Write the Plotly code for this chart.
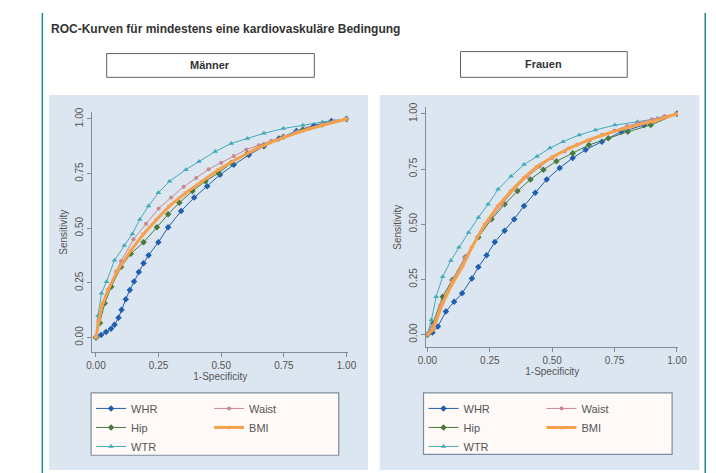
import plotly.graph_objects as go

W, H = 716, 473

# ---------------- data (1-Specificity, Sensitivity) ----------------
series_names = ["WHR", "Hip", "WTR", "Waist", "BMI"]

# Männer
m_whr_x = [0, 0.02, 0.04, 0.06, 0.074, 0.09, 0.102, 0.119, 0.135, 0.152, 0.171, 0.19, 0.21, 0.249, 0.288, 0.34, 0.392, 0.444, 0.495, 0.55, 0.61, 0.67, 0.73, 0.8, 0.87, 0.94, 1.0]
m_whr_y = [0, 0.012, 0.025, 0.04, 0.058, 0.09, 0.127, 0.175, 0.217, 0.256, 0.3, 0.34, 0.376, 0.436, 0.504, 0.579, 0.64, 0.692, 0.745, 0.79, 0.835, 0.875, 0.91, 0.945, 0.97, 0.99, 1.0]
m_hip_x = [0, 0.016, 0.035, 0.061, 0.1, 0.139, 0.19, 0.243, 0.288, 0.333, 0.385, 0.437, 0.489, 0.54, 0.605, 0.67, 0.748, 0.826, 0.904, 1.0]
m_hip_y = [0, 0.066, 0.157, 0.232, 0.323, 0.383, 0.436, 0.504, 0.564, 0.617, 0.67, 0.715, 0.753, 0.798, 0.843, 0.88, 0.918, 0.952, 0.975, 1.0]
m_wtr_x = [0, 0.008, 0.022, 0.042, 0.074, 0.113, 0.145, 0.175, 0.21, 0.249, 0.294, 0.359, 0.411, 0.476, 0.54, 0.605, 0.67, 0.748, 0.826, 0.904, 1.0]
m_wtr_y = [0, 0.1, 0.202, 0.255, 0.353, 0.421, 0.474, 0.54, 0.602, 0.662, 0.715, 0.768, 0.805, 0.851, 0.888, 0.911, 0.934, 0.956, 0.971, 0.986, 1.0]
m_waist_x = [0, 0.01, 0.03, 0.05, 0.08, 0.1, 0.15, 0.2, 0.25, 0.3, 0.35, 0.4, 0.45, 0.5, 0.55, 0.6, 0.65, 0.7, 0.75, 0.8, 0.85, 0.9, 0.95, 1.0]
m_waist_y = [0, 0.08, 0.16, 0.22, 0.3, 0.35, 0.45, 0.52, 0.59, 0.64, 0.69, 0.73, 0.77, 0.8, 0.83, 0.86, 0.88, 0.9, 0.92, 0.94, 0.96, 0.975, 0.99, 1.0]
m_bmi_x = [0, 0.01, 0.022, 0.048, 0.087, 0.139, 0.19, 0.243, 0.294, 0.359, 0.424, 0.489, 0.567, 0.645, 0.722, 0.813, 0.904, 1.0]
m_bmi_y = [0, 0.07, 0.142, 0.217, 0.308, 0.398, 0.474, 0.541, 0.602, 0.662, 0.715, 0.768, 0.82, 0.866, 0.903, 0.941, 0.971, 1.0]

# Frauen
f_whr_x = [0, 0.02, 0.042, 0.074, 0.107, 0.139, 0.178, 0.204, 0.237, 0.27, 0.309, 0.348, 0.387, 0.432, 0.478, 0.53, 0.582, 0.634, 0.699, 0.777, 0.868, 1.0]
f_whr_y = [0, 0.01, 0.037, 0.105, 0.149, 0.187, 0.254, 0.306, 0.359, 0.419, 0.471, 0.523, 0.583, 0.643, 0.703, 0.755, 0.8, 0.837, 0.874, 0.919, 0.949, 1.0]
f_hip_x = [0, 0.022, 0.061, 0.1, 0.152, 0.204, 0.257, 0.309, 0.361, 0.413, 0.465, 0.517, 0.582, 0.647, 0.725, 0.803, 0.895, 1.0]
f_hip_y = [0, 0.052, 0.172, 0.247, 0.351, 0.441, 0.523, 0.59, 0.65, 0.703, 0.747, 0.785, 0.822, 0.859, 0.889, 0.919, 0.949, 1.0]
f_wtr_x = [0, 0.016, 0.035, 0.061, 0.094, 0.126, 0.165, 0.204, 0.243, 0.283, 0.335, 0.387, 0.439, 0.491, 0.543, 0.608, 0.673, 0.751, 0.842, 0.921, 1.0]
f_wtr_y = [0, 0.067, 0.172, 0.262, 0.336, 0.396, 0.463, 0.531, 0.59, 0.658, 0.717, 0.77, 0.807, 0.845, 0.874, 0.904, 0.927, 0.949, 0.964, 0.979, 1.0]
f_waist_x = [0, 0.02, 0.05, 0.1, 0.15, 0.2, 0.25, 0.3, 0.35, 0.4, 0.45, 0.5, 0.55, 0.6, 0.65, 0.7, 0.75, 0.8, 0.85, 0.9, 0.95, 1.0]
f_waist_y = [0, 0.04, 0.13, 0.245, 0.35, 0.44, 0.52, 0.59, 0.66, 0.715, 0.76, 0.8, 0.83, 0.86, 0.88, 0.905, 0.925, 0.945, 0.96, 0.975, 0.99, 1.0]
f_bmi_x = [0, 0.022, 0.061, 0.1, 0.139, 0.178, 0.23, 0.283, 0.335, 0.387, 0.439, 0.504, 0.569, 0.647, 0.725, 0.816, 0.908, 1.0]
f_bmi_y = [0, 0.022, 0.142, 0.232, 0.306, 0.396, 0.5, 0.583, 0.65, 0.71, 0.762, 0.807, 0.845, 0.882, 0.912, 0.942, 0.967, 1.0]

tick_vals = [0, 0.25, 0.5, 0.75, 1.0]
tick_text = ["0.00", "0.25", "0.50", "0.75", "1.00"]

title_text = "ROC-Kurven für mindestens eine kardiovaskuläre Bedingung"
panel_titles = ["Männer", "Frauen"]
x_title = "1-Specificity"
y_title = "Sensitivity"

# ---------------- styling ----------------
colors = {"WHR": "#1f5fae", "Hip": "#477a3c", "WTR": "#45aab8", "Waist": "#c98790", "BMI": "#f5a04c"}
symbols = {"WHR": "diamond", "Hip": "diamond", "WTR": "triangle-up", "Waist": "circle", "BMI": "triangle-down"}
widths = {"WHR": 1, "Hip": 1, "WTR": 1, "Waist": 1, "BMI": 3}
msize = {"WHR": 5, "Hip": 5, "WTR": 5, "Waist": 4, "BMI": 5}
FONT = "Liberation Sans, Arial, sans-serif"


def px(x):
    return x / W


def py(y):
    return 1 - y / H


men = {"WHR": (m_whr_x, m_whr_y), "Hip": (m_hip_x, m_hip_y), "WTR": (m_wtr_x, m_wtr_y),
       "Waist": (m_waist_x, m_waist_y), "BMI": (m_bmi_x, m_bmi_y)}
women = {"WHR": (f_whr_x, f_whr_y), "Hip": (f_hip_x, f_hip_y), "WTR": (f_wtr_x, f_wtr_y),
         "Waist": (f_waist_x, f_waist_y), "BMI": (f_bmi_x, f_bmi_y)}

fig = go.Figure()
legend_of = {
    0: {"WHR": "legend", "Hip": "legend", "WTR": "legend", "Waist": "legend2", "BMI": "legend2"},
    1: {"WHR": "legend3", "Hip": "legend3", "WTR": "legend3", "Waist": "legend4", "BMI": "legend4"},
}
for pi, (data, xa, ya) in enumerate([(men, "x", "y"), (women, "x2", "y2")]):
    for name in series_names:
        xs, ys = data[name]
        fig.add_trace(go.Scatter(
            x=xs, y=ys, name=name, xaxis=xa, yaxis=ya, mode="lines+markers",
            line=dict(color=colors[name], width=widths[name]),
            marker=dict(color=colors[name], symbol=symbols[name], size=msize[name]),
            legend=legend_of[pi][name], showlegend=True,
        ))

axis_common = dict(showgrid=False, zeroline=False, showline=True, linecolor="#7d8d9c", linewidth=1,
                   ticks="outside", ticklen=4, tickcolor="#7d8d9c", tickvals=tick_vals, ticktext=tick_text,
                   tickfont=dict(family=FONT, size=10, color="#555"), mirror=False)

fig.update_layout(
    width=W, height=H, margin=dict(l=0, r=0, t=0, b=0),
    paper_bgcolor="white", plot_bgcolor="rgba(0,0,0,0)",
    font=dict(family=FONT, color="#444"),
    xaxis=dict(domain=[px(77), px(340)], range=[-0.0156, 1.0078], anchor="y",
               title=dict(text=x_title, font=dict(size=10, color="#555"), standoff=2), **axis_common),
    yaxis=dict(domain=[py(343), py(100)], range=[-0.068, 1.032], anchor="x", tickangle=-90,
               title=dict(text=y_title, font=dict(size=10, color="#555"), standoff=4), **axis_common),
    xaxis2=dict(domain=[px(420), px(678)], range=[-0.004, 1.004], anchor="y2",
                title=dict(text=x_title, font=dict(size=10, color="#555"), standoff=2), **axis_common),
    yaxis2=dict(domain=[py(338), py(95)], range=[-0.058, 1.031], anchor="x2", tickangle=-90,
                title=dict(text=y_title, font=dict(size=10, color="#555"), standoff=4), **axis_common),
)

leg_common = dict(bgcolor="rgba(0,0,0,0)", borderwidth=0, font=dict(family=FONT, size=11, color="#555"),
                  yanchor="top", xanchor="left", orientation="v", itemwidth=30, tracegroupgap=0)
fig.update_layout(
    legend=dict(x=px(76), y=py(385), **leg_common),
    legend2=dict(x=px(197), y=py(385), **leg_common),
    legend3=dict(x=px(417), y=py(385), **leg_common),
    legend4=dict(x=px(538), y=py(385), **leg_common),
)

shapes = []
# panel backgrounds
for x0, x1 in [(33, 360), (372, 700)]:
    shapes.append(dict(type="rect", xref="paper", yref="paper", x0=px(x0), x1=px(x1), y0=py(462), y1=py(83),
                       fillcolor="#dce6f0", line=dict(width=0), layer="below"))
# teal frame lines
for x in [26, 706]:
    shapes.append(dict(type="line", xref="paper", yref="paper", x0=px(x), x1=px(x), y0=0, y1=1,
                       line=dict(color="#1d8a8c", width=1.5), layer="below"))
# header boxes
for x0, x1, y0, y1 in [(92, 305, 41, 65), (455, 626, 39, 65)]:
    shapes.append(dict(type="rect", xref="paper", yref="paper", x0=px(x0), x1=px(x1), y0=py(y1), y1=py(y0),
                       fillcolor="white", line=dict(color="#606060", width=1), layer="below"))
# legend boxes
for x0, x1, y0, y1 in [(76, 330, 384, 447), (417, 672, 384, 446)]:
    shapes.append(dict(type="rect", xref="paper", yref="paper", x0=px(x0), x1=px(x1), y0=py(y1), y1=py(y0),
                       fillcolor="#fffaf8", line=dict(color="#7d8d9c", width=1.2), layer="below"))
fig.update_layout(shapes=shapes)

annotations = [
    dict(text="<b>" + title_text + "</b>", x=px(33), y=py(16), xref="paper", yref="paper",
         xanchor="left", yanchor="middle", showarrow=False, font=dict(family=FONT, size=12, color="#333")),
    dict(text="<b>" + panel_titles[0] + "</b>", x=px(198), y=py(53), xref="paper", yref="paper",
         xanchor="center", yanchor="middle", showarrow=False, font=dict(family=FONT, size=11, color="#333")),
    dict(text="<b>" + panel_titles[1] + "</b>", x=px(540), y=py(52), xref="paper", yref="paper",
         xanchor="center", yanchor="middle", showarrow=False, font=dict(family=FONT, size=11, color="#333")),
]
fig.update_layout(annotations=annotations)

fig.write_html("out.html")
